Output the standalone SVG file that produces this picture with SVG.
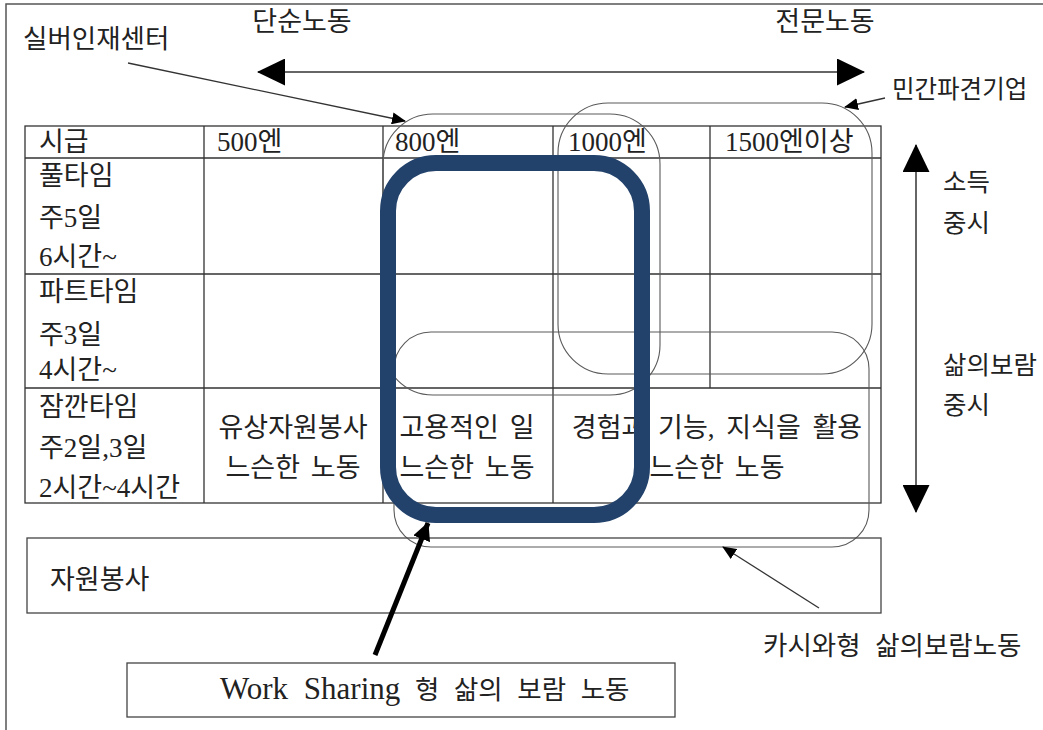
<svg xmlns="http://www.w3.org/2000/svg" width="1043" height="730" viewBox="0 0 1043 730">
<style>
text{font-family:"Liberation Serif","Noto Sans CJK KR",serif;fill:#222;}
.lbl{font-size:26.5px;}
.cell{font-size:27px;}
.side{font-size:25.5px;}
.mid{text-anchor:middle;}
.tbl{fill:none;stroke:#333;stroke-width:1.3;}
.grp{fill:none;stroke:#5a5a5a;stroke-width:1.1;}
.box{fill:none;stroke:#444;stroke-width:1.3;}
.conn{fill:none;stroke:#333;stroke-width:1.5;}
</style>
<defs>
<marker id="big" markerUnits="userSpaceOnUse" markerWidth="28" markerHeight="27" refX="27" refY="13.5" orient="auto-start-reverse"><path d="M0,0 L28,13.5 L0,27 z" fill="#000"/></marker>
<marker id="small" markerUnits="userSpaceOnUse" markerWidth="14" markerHeight="12" refX="13" refY="6" orient="auto"><path d="M0,0 L14,6 L0,12 z" fill="#000"/></marker>
<marker id="thick" markerUnits="userSpaceOnUse" markerWidth="18" markerHeight="18" refX="17" refY="9" orient="auto"><path d="M0,0 L18,9 L0,18 z" fill="#000"/></marker>
</defs>
<rect width="1043" height="730" fill="#fff"/>
<path d="M6,730 V4 H1043" fill="none" stroke="#555" stroke-width="1.5"/>

<g id="labels-top">
<text class="lbl mid" x="302" y="31" style="font-size:27px">단순노동</text>
<text class="lbl mid" x="825" y="31" style="font-size:27px">전문노동</text>
<text class="lbl" x="23" y="48">실버인재센터</text>
<text class="lbl" x="892" y="98" style="font-size:24.5px">민간파견기업</text>
</g>

<g id="table">
<rect class="tbl" x="25" y="126" width="856" height="377"/>
<path class="tbl" d="M25,158 H881 M25,274 H881 M25,388 H881 M204,126 V503 M383,126 V503 M553,126 V503 M710,126 V388"/>
<text class="cell" x="39" y="151">시급</text>
<text class="cell" x="217" y="151">500엔</text>
<text class="cell" x="395" y="151">800엔</text>
<text class="cell" x="568" y="151">1000엔</text>
<text class="cell" x="725" y="151">1500엔이상</text>
<text class="cell" x="39" y="185">풀타임</text>
<text class="cell" x="39" y="227">주5일</text>
<text class="cell" x="39" y="266">6시간~</text>
<text class="cell" x="39" y="301">파트타임</text>
<text class="cell" x="39" y="344">주3일</text>
<text class="cell" x="39" y="379">4시간~</text>
<text class="cell" x="39" y="416">잠깐타임</text>
<text class="cell" x="39" y="457">주2일,3일</text>
<text class="cell" x="39" y="497">2시간~4시간</text>
<text class="cell mid" x="293" y="437">유상자원봉사</text>
<text class="cell mid" x="293" y="477" word-spacing="4">느슨한 노동</text>
<text class="cell mid" x="467" y="437" word-spacing="4">고용적인 일</text>
<text class="cell mid" x="467" y="477" word-spacing="4">느슨한 노동</text>
<text class="cell mid" x="717" y="437" word-spacing="5">경험과 기능, 지식을 활용</text>
<text class="cell mid" x="717" y="477" word-spacing="4">느슨한 노동</text>
</g>

<g id="side-labels">
<text class="side" x="943" y="191">소득</text>
<text class="side" x="943" y="232">중시</text>
<text class="side" x="943" y="374">삶의보람</text>
<text class="side" x="943" y="414">중시</text>
</g>

<g id="silver-group"><rect class="grp" x="383" y="114" width="277" height="281" rx="50"/></g>
<g id="dispatch-group"><rect class="grp" x="558" y="103" width="314" height="271" rx="50"/></g>
<g id="kashiwa-group"><rect class="grp" x="394" y="332" width="475" height="215" rx="37"/></g>
<g id="worksharing-group"><rect x="388" y="163" width="254" height="352" rx="48" fill="none" stroke="#22426B" stroke-width="16"/></g>

<g id="volunteer">
<rect class="box" x="27" y="538" width="854" height="75"/>
<text class="lbl" x="50" y="589" style="font-size:27px">자원봉사</text>
</g>

<g id="kashiwa-label">
<text class="lbl" x="763" y="655" word-spacing="8">카시와형 삶의보람노동</text>
</g>

<g id="worksharing-label">
<rect class="box" x="127" y="663" width="548" height="54"/>
<text class="lbl" x="220" y="699" word-spacing="8"><tspan style="font-size:31px">Work Sharing</tspan> 형 삶의 보람 노동</text>
</g>

<g id="connectors">
<line class="conn" x1="258" y1="72" x2="864" y2="72" marker-start="url(#big)" marker-end="url(#big)"/>
<line class="conn" x1="916" y1="145" x2="916" y2="512" marker-start="url(#big)" marker-end="url(#big)"/>
<line x1="128" y1="63" x2="405" y2="121" stroke="#333" stroke-width="1.3" marker-end="url(#small)"/>
<line x1="885" y1="98" x2="845" y2="107" stroke="#333" stroke-width="1.3" marker-end="url(#small)"/>
<line x1="819" y1="608" x2="723" y2="547" stroke="#333" stroke-width="1.3" marker-end="url(#small)"/>
<line x1="375" y1="655" x2="428" y2="523" stroke="#000" stroke-width="5" marker-end="url(#thick)"/>
</g>
</svg>
